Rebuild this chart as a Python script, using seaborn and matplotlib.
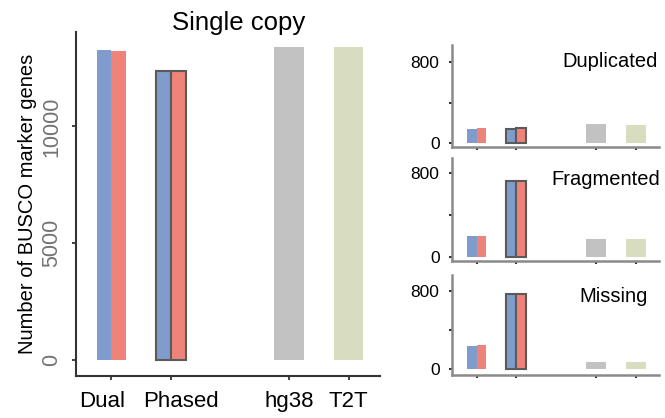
import matplotlib
matplotlib.use("Agg")
import matplotlib.pyplot as plt
import matplotlib.transforms as mtransforms
import pandas as pd
import seaborn as sns

# ---- data ----
categories = ["Dual", "Phased", "hg38", "T2T"]
haps = ["hap1", "hap2"]

single_dual = [13257, 13245]
single_phased = [12370, 12370]
single_ref = [13386, 13400]

dup_dual = [138, 148]
dup_phased = [144, 154]
dup_ref = [188, 181]

frag_dual = [204, 204]
frag_phased = [720, 720]
frag_ref = [170, 173]

miss_dual = [240, 244]
miss_phased = [763, 763]
miss_ref = [74, 74]

main_yticks = [0, 5000, 10000]
small_yticks = [0, 400, 800]
small_yticklabels = ["0", "", "800"]
panel_titles = ["Duplicated", "Fragmented", "Missing"]

# ---- style ----
sns.set_style("white")
plt.rcParams["font.family"] = ["Liberation Sans", "DejaVu Sans"]
plt.rcParams["text.color"] = "black"
plt.rcParams["axes.labelcolor"] = "black"

BLUE = "#7f9ccc"
RED = "#f08379"
GREY = "#c2c2c2"
OLIVE = "#d9ddc0"
EDGE = "#5a5a5a"

order = ["Dual", "Phased", " ", "hg38", "T2T"]


def draw(ax, dual, phased, ref):
    df_d = pd.DataFrame({"cat": ["Dual"] * 2, "hap": haps, "val": dual})
    df_p = pd.DataFrame({"cat": ["Phased"] * 2, "hap": haps, "val": phased})
    df_r = pd.DataFrame({"cat": ["hg38", "T2T"], "val": ref})
    sns.barplot(data=df_d, x="cat", y="val", hue="hap", hue_order=haps,
                order=order, palette=[BLUE, RED], width=0.5, linewidth=0,
                errorbar=None, legend=False, saturation=1, ax=ax)
    sns.barplot(data=df_p, x="cat", y="val", hue="hap", hue_order=haps,
                order=order, palette=[BLUE, RED], width=0.5, linewidth=1.5,
                edgecolor=EDGE, errorbar=None, legend=False, saturation=1, ax=ax)
    sns.barplot(data=df_r, x="cat", y="val", hue="cat", hue_order=["hg38", "T2T"],
                order=order, palette=[GREY, OLIVE], width=0.5, linewidth=0,
                dodge=False, errorbar=None, legend=False, saturation=1, ax=ax)
    ax.set_xlabel("")
    ax.set_ylabel("")
    ax.set_xticks([0, 1, 3, 4])


fig = plt.figure(figsize=(6.65, 4.18), dpi=100)

# main panel
ax = fig.add_axes([0.1143, 0.1005, 0.4571, 0.8229])
draw(ax, single_dual, single_phased, single_ref)
ax.set_xlim(-0.597, 4.53)
ax.set_ylim(-686, 14043)
ax.set_yticks(main_yticks)
ax.set_yticklabels([str(v) for v in main_yticks], rotation=90, va="center",
                   color="#737373", fontsize=15.5)
ax.set_xticklabels(categories, fontsize=16, color="black")
ax.tick_params(axis="both", which="major", length=3, width=1.3, color="#333333",
               left=True, bottom=True)
ax.tick_params(axis="y", pad=7)
ax.tick_params(axis="x", pad=8)
# label offsets as in the reference (Dual a bit left, Phased a bit right)
offsets_px = [-9, 10, 0, 0]
for lab, dx in zip(ax.get_xticklabels(), offsets_px):
    lab.set_transform(lab.get_transform() +
                      mtransforms.ScaledTranslation(dx / 100, 0, fig.dpi_scale_trans))
for s in ["top", "right"]:
    ax.spines[s].set_visible(False)
for s in ["left", "bottom"]:
    ax.spines[s].set_color("#333333")
    ax.spines[s].set_linewidth(1.5)
ax.set_ylabel("Number of BUSCO marker genes", fontsize=14.5, color="black", labelpad=3)
ax.text(0.535, 1.027, "Single copy", transform=ax.transAxes, ha="center",
        va="center", fontsize=18.5, color="black")

# small panels
small_rects = [
    [0.6797, 0.6476, 0.3113, 0.2444],
    [0.6797, 0.3756, 0.3113, 0.2457],
    [0.6797, 0.1036, 0.3113, 0.2385],
]
small_data = [
    (dup_dual, dup_phased, dup_ref),
    (frag_dual, frag_phased, frag_ref),
    (miss_dual, miss_phased, miss_ref),
]
small_ylims = [(-40, 971), (-35, 936), (-55, 960)]
title_y = [0.84, 0.79, 0.78]
title_x = [0.763, 0.745, 0.78]
for rect, (d, p, r), title, yl, ty, tx in zip(small_rects, small_data, panel_titles,
                                              small_ylims, title_y, title_x):
    sax = fig.add_axes(rect)
    draw(sax, d, p, r)
    sax.set_xlim(-0.615, 4.58)
    sax.set_ylim(*yl)
    sax.set_yticks(small_yticks)
    sax.set_yticklabels(small_yticklabels, fontsize=12.5, color="black")
    sax.set_xticklabels([])
    sax.tick_params(axis="both", length=2, width=1.5, color="#333333",
                    left=True, bottom=True, pad=7)
    for s in ["top", "right"]:
        sax.spines[s].set_visible(False)
    for s in ["left", "bottom"]:
        sax.spines[s].set_color("#8a8a8a")
        sax.spines[s].set_linewidth(1.8)
    sax.text(tx, ty, title, transform=sax.transAxes, ha="center",
             va="center", fontsize=14.5, color="black")

fig.savefig("out.png", dpi=100)
